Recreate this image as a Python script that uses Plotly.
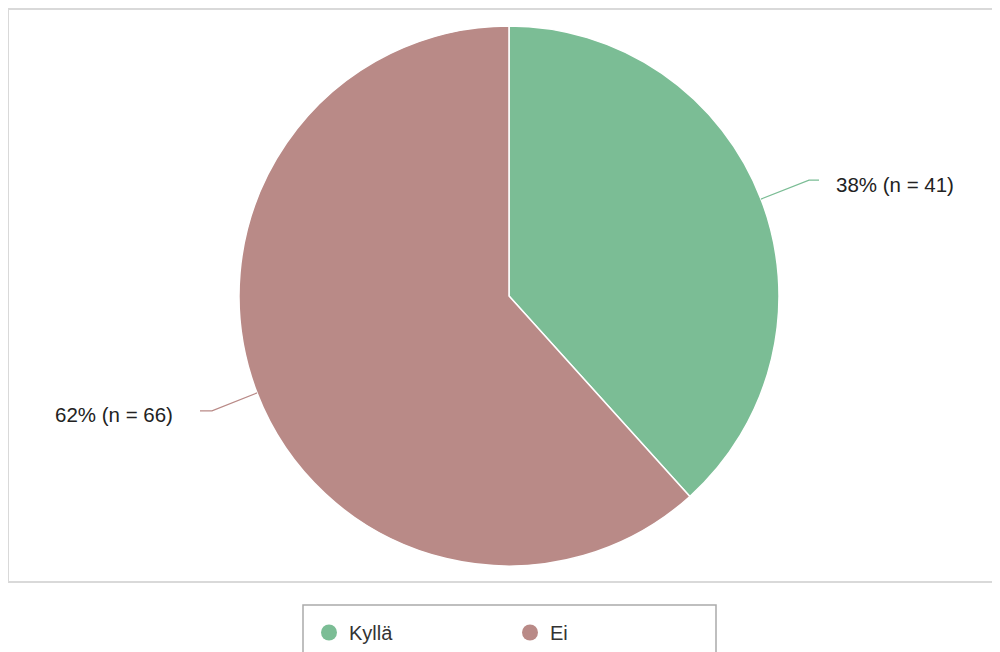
import math
import plotly.graph_objects as go

labels = ["Kyllä", "Ei"]
counts = [41, 66]
colors = ["#7bbd95", "#b98a87"]

# the page body has an 8px margin, so the figure is 992x644 placed at (8,8)
OFF = 8
W, H = 1000 - OFF, 652 - OFF
cx, cy, R = 509, 296, 270  # pie centre / radius in window pixels


def px(x):
    return (x - OFF) / W


def py(y):
    return 1 - (y - OFF) / H


total = sum(counts)
pct = [round(100 * c / total) for c in counts]
label_text = [f"{p}% (n = {c})" for p, c in zip(pct, counts)]

fig = go.Figure()
fig.add_trace(go.Pie(
    labels=labels, values=counts, sort=False, direction="clockwise", rotation=0,
    marker=dict(colors=colors, line=dict(color="white", width=1.5)),
    textinfo="none", hoverinfo="label+value+percent", showlegend=False,
    domain=dict(x=[px(cx - R), px(cx + R)], y=[py(cy + R), py(cy - R)]),
))

# legend entries as circle markers
for lab, col in zip(labels, colors):
    fig.add_trace(go.Scatter(x=[None], y=[None], mode="markers", name=lab,
                             marker=dict(symbol="circle", size=20, color=col)))

# connector geometry per side: (diag dx, diag dy, horizontal len, text gap)
geom = {1: (48, -19, 10, 15), -1: (45, 18, 12, 25)}

shapes = []
annotations = []
cum = 0
for i, c in enumerate(counts):
    mid = (cum + c / 2) / total * 2 * math.pi
    cum += c
    sx = cx + R * math.sin(mid)
    sy = cy - R * math.cos(mid)
    side = 1 if math.sin(mid) >= 0 else -1
    ddx, ddy, hl, gap = geom[side]
    ex = sx + side * ddx
    ey = sy + ddy
    hx = ex + side * hl
    shapes.append(dict(type="path", xref="paper", yref="paper",
                       path=f"M {px(sx)} {py(sy)} L {px(ex)} {py(ey)} L {px(hx)} {py(ey)}",
                       line=dict(color=colors[i], width=1.2)))
    annotations.append(dict(xref="paper", yref="paper", x=px(hx + side * gap), y=py(ey + 4),
                            text=label_text[i], showarrow=False,
                            xanchor="left" if side > 0 else "right", yanchor="middle",
                            font=dict(size=20.5, color="#222222",
                                      family="Liberation Sans, Arial, sans-serif")))

# outer frame and legend box
shapes.append(dict(type="rect", xref="paper", yref="paper",
                   x0=px(8), x1=px(1010), y0=py(582), y1=py(9),
                   line=dict(color="#d9d9d9", width=2), fillcolor="rgba(0,0,0,0)"))
shapes.append(dict(type="rect", xref="paper", yref="paper",
                   x0=px(303), x1=px(716), y0=py(670), y1=py(605),
                   line=dict(color="#aaaaaa", width=1.5), fillcolor="rgba(0,0,0,0)"))

fig.update_layout(
    width=W, height=H,
    margin=dict(l=0, r=0, t=0, b=0),
    paper_bgcolor="white", plot_bgcolor="white",
    xaxis=dict(visible=False), yaxis=dict(visible=False),
    shapes=shapes, annotations=annotations,
    legend=dict(orientation="h", x=px(309), y=py(613), xanchor="left", yanchor="top",
                entrywidth=156, entrywidthmode="pixels",
                font=dict(size=20, color="#333333", family="Liberation Sans, Arial, sans-serif"),
                bgcolor="rgba(0,0,0,0)", borderwidth=0, itemclick=False),
)

fig.write_html("out.html")
